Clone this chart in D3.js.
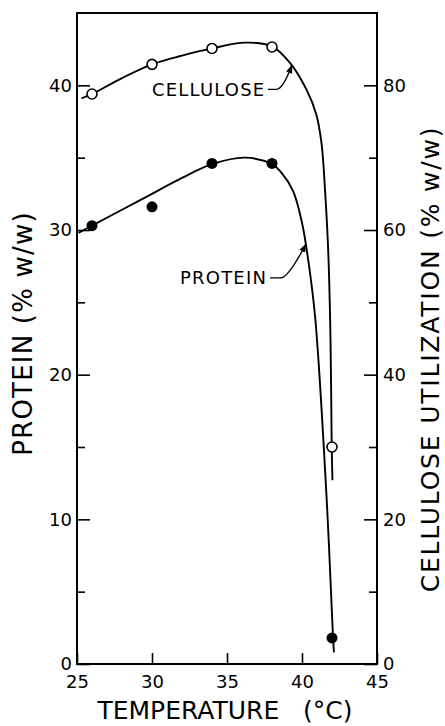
<!DOCTYPE html>
<html>
<head>
<meta charset="utf-8">
<script src="https://cdn.jsdelivr.net/npm/d3@7"></script>
<style>
  html, body { margin: 0; padding: 0; background: #fff; }
  svg { display: block; }
  text { font-family: "DejaVu Sans", sans-serif; fill: #000; }
</style>
</head>
<body>
<script>
// ---------- data ----------
const temps = [26, 30, 34, 38, 42];                 // °C
const protein = [30.3, 31.6, 34.6, 34.6, 1.8];      // % w/w (left axis)
const cellulose = [78.8, 82.9, 85.1, 85.3, 30];     // % w/w (right axis)

// fitted (hand-drawn) curves
const protCurveT = [25.1, 26, 28, 30, 32, 34, 36.2, 38, 38.6, 39.4, 40.0, 40.5, 40.9, 41.65, 42.07, 42.13];
const protCurveV = [29.8, 30.3, 31.4, 32.5, 33.6, 34.55, 35.0, 34.55, 34.0, 32.7, 30.5, 27.3, 23.7, 11.3, 1.8, 0.8];
const cellCurveT = [25.3, 26, 28, 30, 32, 34, 36.2, 38, 39.2, 40.3, 40.95, 41.3, 41.55, 41.75, 41.9, 41.98, 42.03];
const cellCurveV = [78.2, 78.8, 81.0, 82.9, 84.1, 85.1, 85.9, 85.4, 83.1, 79.4, 76.0, 72.0, 65.0, 57.0, 45.0, 30, 25.4];

// axis ticks
const xTicks = [25, 30, 35, 40, 45];
const leftTicks = [0, 10, 20, 30, 40];
const leftMinor = [5, 15, 25, 35];
const rightTicks = [0, 20, 40, 60, 80];
const rightMinor = [10, 30, 50, 70];

// labels & annotations (data units: temperature, left-axis value)
const xTitle = "TEMPERATURE   (°C)";
const leftTitle = "PROTEIN (% w/w)";
const rightTitle = "CELLULOSE UTILIZATION (% w/w)";
const annotations = [
  { text: "CELLULOSE", tx: 30.0, tv: 39.24, path: [[37.73, 39.72], [38.3, 39.72], [38.73, 39.72], [39.33, 41.4]] },
  { text: "PROTEIN", tx: 31.87, tv: 26.28, path: [[37.87, 26.69], [38.6, 26.69], [39.07, 26.69], [40.27, 29.03]] }
];

// ---------- layout ----------
const W = 445, H = 726;
const x = d3.scaleLinear().domain([25, 45]).range([77, 377]);
const yL = d3.scaleLinear().domain([0, 45]).range([664, 13]);
const yR = d3.scaleLinear().domain([0, 90]).range([664, 13]);

const svg = d3.select("body").append("svg").attr("width", W).attr("height", H);

svg.append("defs").append("marker")
  .attr("id", "arrow").attr("viewBox", "0 0 10 10")
  .attr("refX", 9).attr("refY", 5)
  .attr("markerWidth", 9).attr("markerHeight", 9)
  .attr("markerUnits", "userSpaceOnUse")
  .attr("orient", "auto")
  .append("path").attr("d", "M0,1.5 L10,5 L0,8.5 Z").attr("fill", "#000");

function styleAxis(g) {
  g.select(".domain").remove();
  g.selectAll(".tick line").attr("stroke", "#000").attr("stroke-width", 1.6);
  g.selectAll(".tick text").attr("font-size", 18).attr("font-family", "DejaVu Sans").attr("fill", "#000");
}

// left axis
svg.append("g").attr("transform", `translate(${x(25)},0)`)
  .call(d3.axisLeft(yL).tickValues(leftTicks).tickSize(-13).tickPadding(5).tickFormat(d3.format("d")))
  .call(styleAxis);
svg.append("g").attr("transform", `translate(${x(25)},0)`)
  .call(d3.axisLeft(yL).tickValues(leftMinor).tickSize(-8).tickFormat(""))
  .call(styleAxis);

// right axis
svg.append("g").attr("transform", `translate(${x(45)},0)`)
  .call(d3.axisRight(yR).tickValues(rightTicks).tickSize(-13).tickPadding(6).tickFormat(d3.format("d")))
  .call(styleAxis);
svg.append("g").attr("transform", `translate(${x(45)},0)`)
  .call(d3.axisRight(yR).tickValues(rightMinor).tickSize(-8).tickFormat(""))
  .call(styleAxis);

// bottom axis
svg.append("g").attr("transform", `translate(0,${yL(0)})`)
  .call(d3.axisBottom(x).tickValues(xTicks).tickSize(-11).tickPadding(11).tickFormat(d3.format("d")))
  .call(styleAxis);

// frame
svg.append("rect")
  .attr("x", x(25)).attr("y", yL(45))
  .attr("width", x(45) - x(25)).attr("height", yL(0) - yL(45))
  .attr("fill", "none").attr("stroke", "#000").attr("stroke-width", 2);

// curves
const lineL = d3.line().x(d => x(d[0])).y(d => yL(d[1])).curve(d3.curveCatmullRom.alpha(0.5));
const lineR = d3.line().x(d => x(d[0])).y(d => yR(d[1])).curve(d3.curveCatmullRom.alpha(0.5));

svg.append("path").datum(protCurveT.map((t, i) => [t, protCurveV[i]]))
  .attr("d", lineL).attr("fill", "none").attr("stroke", "#000").attr("stroke-width", 1.9);
svg.append("path").datum(cellCurveT.map((t, i) => [t, cellCurveV[i]]))
  .attr("d", lineR).attr("fill", "none").attr("stroke", "#000").attr("stroke-width", 1.9);

// points
svg.selectAll("circle.cell").data(temps.map((t, i) => [t, cellulose[i]])).join("circle")
  .attr("class", "cell")
  .attr("cx", d => x(d[0])).attr("cy", d => yR(d[1])).attr("r", 5)
  .attr("fill", "#fff").attr("stroke", "#000").attr("stroke-width", 1.6);
svg.selectAll("circle.prot").data(temps.map((t, i) => [t, protein[i]])).join("circle")
  .attr("class", "prot")
  .attr("cx", d => x(d[0])).attr("cy", d => yL(d[1])).attr("r", 5.5)
  .attr("fill", "#000");

// annotations
annotations.forEach(a => {
  svg.append("text").attr("x", x(a.tx)).attr("y", yL(a.tv))
    .attr("font-size", 18).attr("letter-spacing", 1.2).text(a.text);
  const p = a.path.map(d => [x(d[0]), yL(d[1])]);
  svg.append("path")
    .attr("d", `M${p[0][0]},${p[0][1]} L${p[1][0]},${p[1][1]} Q${p[2][0]},${p[2][1]} ${p[3][0]},${p[3][1]}`)
    .attr("fill", "none").attr("stroke", "#000").attr("stroke-width", 1.4)
    .attr("marker-end", "url(#arrow)");
});

// axis titles
svg.append("text")
  .attr("x", (x(25) + x(45)) / 2 - 2).attr("y", 719)
  .attr("text-anchor", "middle").attr("font-size", 25)
  .style("white-space", "pre").text(xTitle);

svg.append("text")
  .attr("transform", `translate(32,${(460 + 207) / 2}) rotate(-90)`)
  .attr("text-anchor", "middle").attr("font-size", 26).attr("letter-spacing", 1.2)
  .text(leftTitle);

svg.append("text")
  .attr("transform", `translate(439,${(598 + 120) / 2}) rotate(-90)`)
  .attr("text-anchor", "middle").attr("font-size", 25).attr("letter-spacing", 1.8)
  .text(rightTitle);
</script>
</body>
</html>
